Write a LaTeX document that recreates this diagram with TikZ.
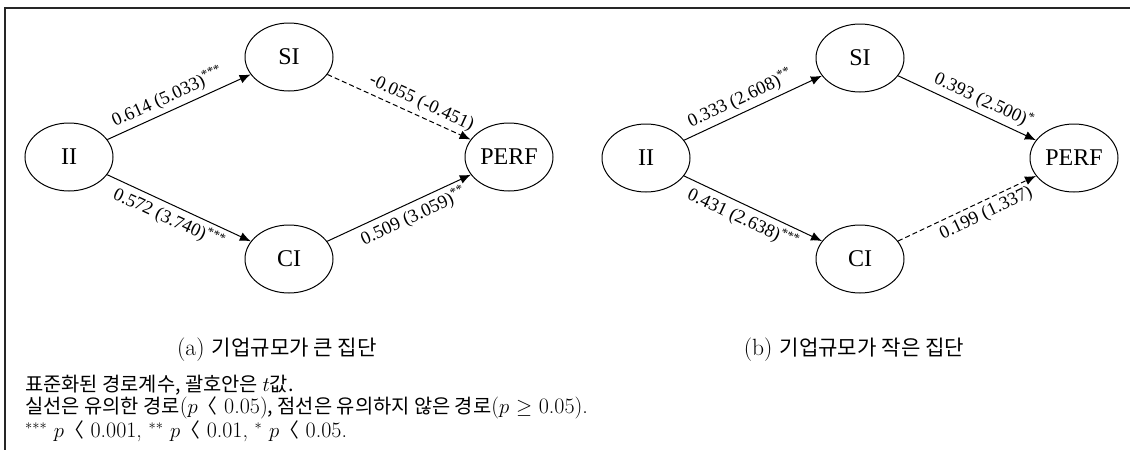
\documentclass[tikz,border=0pt]{standalone}
\usepackage{fontspec}
\newfontfamily\tnr{Liberation Serif}
\newfontfamily\kr[Scale=0.9]{Noto Sans CJK KR}
\usetikzlibrary{shapes.geometric,arrows.meta}
\begin{document}
\begin{tikzpicture}[x=1pt,y=-1pt,
  var/.style={ellipse,draw,line width=1pt,minimum width=88pt,minimum height=68pt,inner sep=0pt,font=\tnr\fontsize{24}{26}\selectfont},
  sigpath/.style={line width=1pt,-{Latex[length=11pt,width=9pt]}},
  nsigpath/.style={sigpath,dash pattern=on 5pt off 3pt},
  lab/.style={sloped,font=\tnr\fontsize{18.5}{20}\selectfont,inner sep=4pt},
  captxt/.style={font=\fontsize{23.5}{25}\selectfont,inner sep=0pt},
  foottxt/.style={font=\fontsize{22}{23}\selectfont,inner sep=0pt,anchor=west},
  frameline/.style={line width=1.3pt,black!85}
]
\useasboundingbox (0,0) rectangle (1130,450);
\coordinate (ftl) at (5,8);
\coordinate (ftr) at (1130,8);
\coordinate (fbl) at (5,450);
\draw[frameline] (ftr) -- (ftl) -- (fbl);

% (a)
\node[var] (aII) at (69,157) {II};
\node[var] (aSI) at (289,57) {SI};
\node[var] (aPERF) at (509,157) {PERF};
\node[var] (aCI) at (289,259) {CI};
\draw[sigpath] (aII) -- node[lab,above,pos=0.46] {0.614 (5.033)\textsuperscript{***}} (aSI);
\draw[nsigpath] (aSI) -- node[lab,above,pos=0.62] {-0.055 (-0.451)} (aPERF);
\draw[sigpath] (aII) -- node[lab,below,pos=0.47] {0.572 (3.740)\textsuperscript{***}} (aCI);
\draw[sigpath] (aCI) -- node[lab,below,pos=0.56] {0.509 (3.059)\textsuperscript{**}} (aPERF);
\node[captxt] (capa) at (277,350) {(a) {\kr 기업규모가 큰 집단}};

% (b)
\node[var] (bII) at (646,158) {II};
\node[var] (bSI) at (860,58) {SI};
\node[var] (bPERF) at (1074,158) {PERF};
\node[var] (bCI) at (860,259) {CI};
\draw[sigpath] (bII) -- node[lab,above,pos=0.45] {0.333 (2.608)\textsuperscript{**}} (bSI);
\draw[sigpath] (bSI) -- node[lab,above,pos=0.58] {0.393 (2.500)\textsuperscript{*}} (bPERF);
\draw[sigpath] (bII) -- node[lab,below,pos=0.47] {0.431 (2.638)\textsuperscript{***}} (bCI);
\draw[nsigpath] (bCI) -- node[lab,below,pos=0.6] {0.199 (1.337)} (bPERF);
\node[captxt] (capb) at (854,350) {(b) {\kr 기업규모가 작은 집단}};

% notes
\node[foottxt] (n1) at (25,385) {{\kr 표준화된 경로계수, 괄호안은 }$t${\kr 값.}};
\node[foottxt] (n2) at (25,408) {{\kr 실선은 유의한 경로}($p${\kr 〈} 0.05){\kr , 점선은 유의하지 않은 경로}($p$ $\geq$ 0.05).};
\node[foottxt] (n3) at (25,431) {$^{***}$ $p${\kr 〈} 0.001, $^{**}$ $p${\kr 〈} 0.01, $^{*}$ $p${\kr 〈} 0.05.};
\end{tikzpicture}
\end{document}
